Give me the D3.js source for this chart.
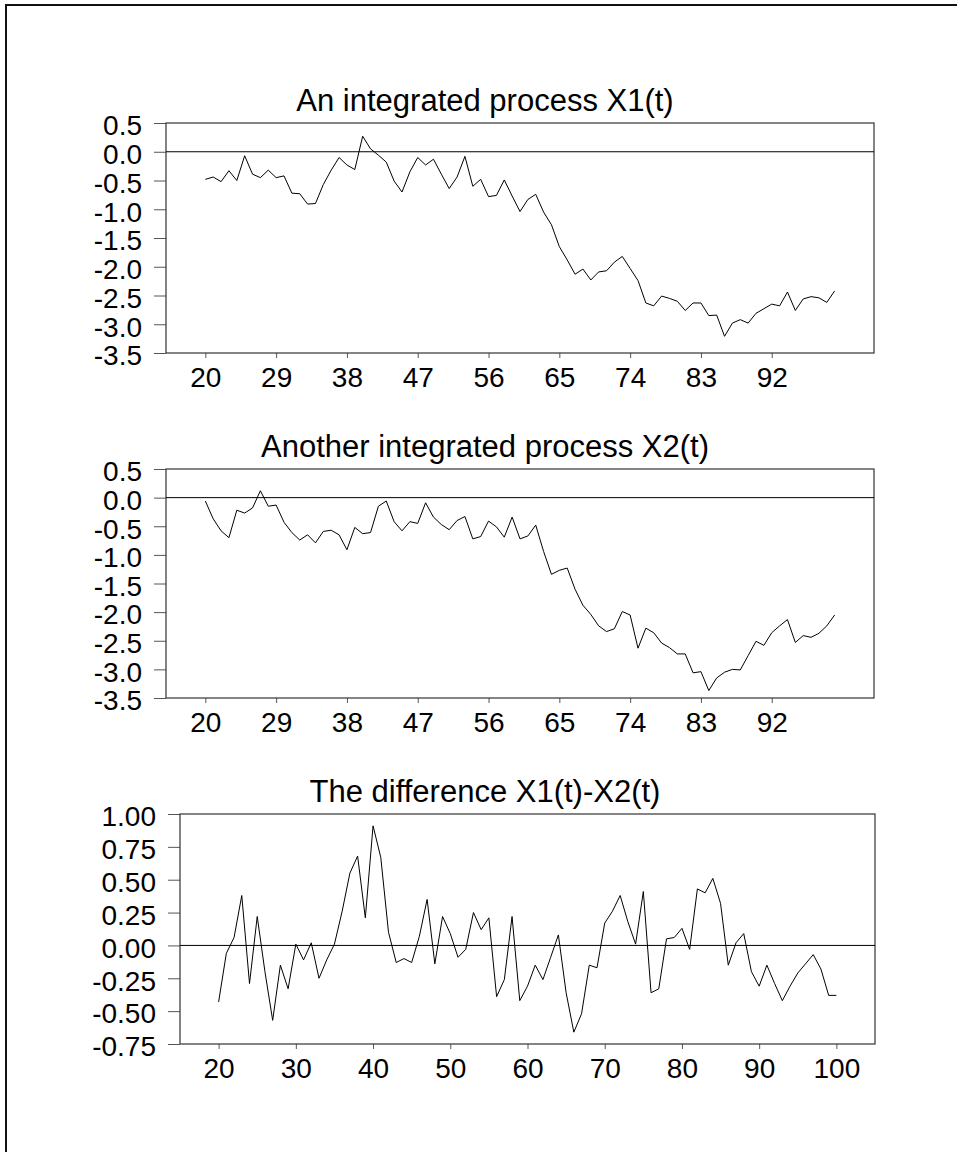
<!DOCTYPE html>
<html>
<head>
<meta charset="utf-8">
<script src="https://cdn.jsdelivr.net/npm/d3@7"></script>
<style>
  body { margin: 0; background: #fff; }
  svg { display: block; }
  text { font-family: "Liberation Sans", Arial, sans-serif; fill: #000; }
</style>
</head>
<body>
<svg id="chart" width="957" height="1152"></svg>
<script>
// ---------- data ----------
const times = d3.range(20, 101); // t = 20 .. 100

const x1Values = [
  -0.48, -0.44, -0.52, -0.33, -0.50, -0.07, -0.39, -0.45, -0.32, -0.45,
  -0.42, -0.72, -0.73, -0.91, -0.90, -0.57, -0.32, -0.10, -0.23, -0.31,
   0.27,  0.05, -0.06, -0.18, -0.51, -0.70, -0.35, -0.10, -0.23, -0.13,
  -0.39, -0.64, -0.44, -0.08, -0.60, -0.48, -0.78, -0.76, -0.49, -0.77,
  -1.04, -0.83, -0.74, -1.05, -1.27, -1.65, -1.88, -2.13, -2.04, -2.23,
  -2.09, -2.07, -1.92, -1.82, -2.03, -2.24, -2.63, -2.68, -2.51, -2.55,
  -2.60, -2.76, -2.63, -2.63, -2.85, -2.84, -3.21, -2.98, -2.92, -2.98,
  -2.81, -2.73, -2.65, -2.68, -2.44, -2.76, -2.56, -2.52, -2.54, -2.62,
  -2.42
];

const x2Values = [
  -0.06, -0.37, -0.58, -0.70, -0.22, -0.27, -0.18,  0.12, -0.15, -0.13,
  -0.43, -0.61, -0.74, -0.65, -0.79, -0.59, -0.57, -0.65, -0.91, -0.52,
  -0.63, -0.61, -0.15, -0.06, -0.42, -0.58, -0.42, -0.45, -0.09, -0.34,
  -0.47, -0.56, -0.40, -0.33, -0.72, -0.68, -0.41, -0.51, -0.69, -0.34,
  -0.72, -0.67, -0.48, -0.94, -1.34, -1.27, -1.23, -1.60, -1.88, -2.04,
  -2.24, -2.34, -2.29, -1.99, -2.05, -2.63, -2.28, -2.36, -2.54, -2.62,
  -2.73, -2.73, -3.06, -3.04, -3.37, -3.15, -3.05, -3.00, -3.01, -2.76,
  -2.51, -2.58, -2.36, -2.24, -2.13, -2.53, -2.41, -2.44, -2.37, -2.24,
  -2.05
];

const diffValues = [
  -0.43, -0.06,  0.06,  0.38, -0.29,  0.22, -0.20, -0.57, -0.15, -0.33,
   0.01, -0.11,  0.02, -0.25, -0.11,  0.01,  0.26,  0.55,  0.68,  0.21,
   0.91,  0.67,  0.10, -0.13, -0.10, -0.13,  0.07,  0.35, -0.14,  0.22,
   0.09, -0.09, -0.03,  0.25,  0.12,  0.21, -0.39, -0.26,  0.22, -0.42,
  -0.31, -0.15, -0.26, -0.09,  0.08, -0.36, -0.66, -0.52, -0.15, -0.17,
   0.17,  0.26,  0.38,  0.18,  0.01,  0.41, -0.36, -0.33,  0.05,  0.06,
   0.13, -0.03,  0.43,  0.40,  0.51,  0.32, -0.15,  0.02,  0.09, -0.20,
  -0.31, -0.15, -0.29, -0.42, -0.31, -0.21, -0.14, -0.07, -0.18, -0.38,
  -0.38
];

const titles = [
  "An integrated process X1(t)",
  "Another integrated process X2(t)",
  "The difference X1(t)-X2(t)"
];

const xTicksA = [20, 29, 38, 47, 56, 65, 74, 83, 92];
const xTicksB = [20, 30, 40, 50, 60, 70, 80, 90, 100];
const yTicksA = [0.5, 0.0, -0.5, -1.0, -1.5, -2.0, -2.5, -3.0, -3.5];
const yTicksB = [1.00, 0.75, 0.50, 0.25, 0.00, -0.25, -0.50, -0.75];

// ---------- layout ----------
const panels = [
  { title: titles[0], values: x1Values, xTicks: xTicksA, yTicks: yTicksA, yDomain: [-3.5, 0.5], dec: 1,
    left: 166, right: 874, top: 123, bottom: 353 },
  { title: titles[1], values: x2Values, xTicks: xTicksA, yTicks: yTicksA, yDomain: [-3.5, 0.5], dec: 1,
    left: 166, right: 874, top: 469, bottom: 698 },
  { title: titles[2], values: diffValues, xTicks: xTicksB, yTicks: yTicksB, yDomain: [-0.75, 1.0], dec: 2,
    left: 180, right: 875, top: 814, bottom: 1044 }
];

const svg = d3.select("#chart");

// outer border (top and left visible)
svg.append("rect")
  .attr("x", 6).attr("y", 5)
  .attr("width", 1000).attr("height", 1200)
  .attr("fill", "none")
  .attr("stroke", "#111")
  .attr("stroke-width", 2);

const fmt = dec => v => {
  const s = Math.abs(v).toFixed(dec);
  return (v < 0 ? "-" : "") + s;
};

panels.forEach(p => {
  const x = d3.scaleLinear().domain([15, 105]).range([p.left, p.right]);
  const y = d3.scaleLinear().domain(p.yDomain).range([p.bottom, p.top]);
  const g = svg.append("g");

  // y axis
  const ya = g.append("g")
    .attr("transform", `translate(${p.left},0)`)
    .call(d3.axisLeft(y).tickValues(p.yTicks).tickSize(12).tickPadding(12).tickFormat(fmt(p.dec)));
  ya.select(".domain").remove();
  ya.selectAll("line").attr("stroke", "#555");
  ya.selectAll("text").attr("font-size", 28).attr("dy", "0.42em")
    .attr("font-family", '"Liberation Sans", Arial, sans-serif');

  // x axis
  const xa = g.append("g")
    .attr("transform", `translate(0,${p.bottom})`)
    .call(d3.axisBottom(x).tickValues(p.xTicks).tickSize(5).tickPadding(9).tickFormat(d3.format("d")));
  xa.select(".domain").remove();
  xa.selectAll("line").attr("stroke", "#555");
  xa.selectAll("text").attr("font-size", 28)
    .attr("font-family", '"Liberation Sans", Arial, sans-serif');

  // frame
  g.append("rect")
    .attr("x", p.left).attr("y", p.top)
    .attr("width", p.right - p.left).attr("height", p.bottom - p.top)
    .attr("fill", "none").attr("stroke", "#333").attr("stroke-width", 1.2);

  // zero line
  g.append("line")
    .attr("x1", p.left).attr("x2", p.right)
    .attr("y1", y(0)).attr("y2", y(0))
    .attr("stroke", "#000").attr("stroke-width", 1);

  // data line
  const line = d3.line().x((d, i) => x(times[i])).y(d => y(d));
  g.append("path")
    .datum(p.values)
    .attr("d", line)
    .attr("fill", "none")
    .attr("stroke", "#000")
    .attr("stroke-width", 1);

  // title
  g.append("text")
    .attr("x", 485).attr("y", p.top - 12)
    .attr("text-anchor", "middle")
    .attr("font-size", 31)
    .text(p.title);
});
</script>
</body>
</html>
